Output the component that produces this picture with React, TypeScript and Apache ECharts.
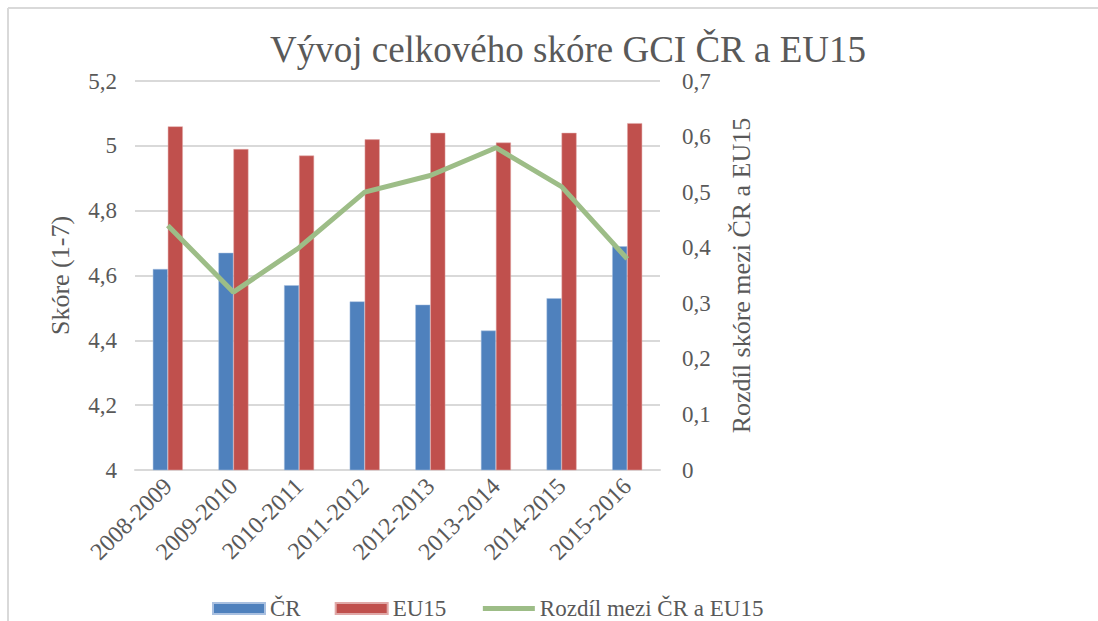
import React, { useEffect, useRef } from "react";
import * as echarts from "echarts";

const categories = ["2008-2009", "2009-2010", "2010-2011", "2011-2012", "2012-2013", "2013-2014", "2014-2015", "2015-2016"];
const crValues = [4.62, 4.67, 4.57, 4.52, 4.51, 4.43, 4.53, 4.69];
const eu15Values = [5.06, 4.99, 4.97, 5.02, 5.04, 5.01, 5.04, 5.07];
const diffValues = [0.44, 0.32, 0.40, 0.50, 0.53, 0.58, 0.51, 0.38];

const FONT = "'Liberation Serif', serif";
const TXT = "#595959";

const fmt = (v: number) => String(+v.toFixed(1)).replace(".", ",");

export default function App() {
  const ref = useRef<HTMLDivElement>(null);
  useEffect(() => {
    if (!ref.current) return;
    const chart = echarts.init(ref.current, null, { renderer: "svg" });
    chart.setOption({
      animation: false,
      backgroundColor: "#ffffff",
      textStyle: { fontFamily: FONT, color: TXT },
      title: {
        text: "Vývoj celkového skóre GCI ČR a EU15",
        left: 563,
        textAlign: "center",
        top: 26,
        textStyle: { fontFamily: FONT, fontSize: 37, fontWeight: "normal", color: TXT },
      },
      graphic: [
        { type: "line", shape: { x1: 8, y1: 8, x2: 1098, y2: 8 }, style: { stroke: "#D9D9D9", lineWidth: 2 } },
        { type: "line", shape: { x1: 8, y1: 8, x2: 8, y2: 621 }, style: { stroke: "#D9D9D9", lineWidth: 2 } },
      ],
      legend: {
        left: 207,
        top: 592,
        itemWidth: 52,
        itemHeight: 11,
        itemGap: 34,
        textStyle: { fontFamily: FONT, fontSize: 23, color: TXT },
        data: [
          { name: "ČR", icon: "rect" },
          { name: "EU15", icon: "rect" },
          { name: "Rozdíl mezi ČR a EU15", itemStyle: { opacity: 0 }, lineStyle: { width: 5, color: "#9DBD87" } },
        ],
      },
      grid: { left: 135, right: 438, top: 81, bottom: 151 },
      xAxis: {
        type: "category",
        data: categories,
        axisLine: { lineStyle: { color: "#D9D9D9", width: 2 } },
        axisTick: { show: false },
        axisLabel: { rotate: 45, fontFamily: FONT, fontSize: 24, color: TXT, margin: 12 },
      },
      yAxis: [
        {
          type: "value",
          min: 4,
          max: 5.2,
          interval: 0.2,
          name: "Skóre (1-7)",
          nameLocation: "middle",
          nameGap: 62,
          nameTextStyle: { fontFamily: FONT, fontSize: 26, color: TXT },
          axisLine: { show: false },
          axisTick: { show: false },
          splitLine: { lineStyle: { color: "#D9D9D9", width: 2 } },
          axisLabel: { formatter: fmt, fontFamily: FONT, fontSize: 23, color: TXT, margin: 18 },
        },
        {
          type: "value",
          min: 0,
          max: 0.7,
          interval: 0.1,
          name: "Rozdíl skóre mezi ČR a EU15",
          nameLocation: "middle",
          nameGap: 68,
          nameRotate: 90,
          nameTextStyle: { fontFamily: FONT, fontSize: 26, color: TXT },
          axisLine: { show: false },
          axisTick: { show: false },
          splitLine: { show: false },
          axisLabel: { formatter: fmt, fontFamily: FONT, fontSize: 23, color: TXT, margin: 22 },
        },
      ],
      series: [
        {
          name: "ČR",
          type: "bar",
          data: crValues,
          barWidth: 15,
          barGap: "0%",
          itemStyle: { color: "#4F81BD", borderColor: "#A9C0E0", borderWidth: 0.5 },
        },
        {
          name: "EU15",
          type: "bar",
          data: eu15Values,
          barWidth: 15,
          barGap: "0%",
          itemStyle: { color: "#C0504D", borderColor: "#E0A9A8", borderWidth: 0.5 },
        },
        {
          name: "Rozdíl mezi ČR a EU15",
          type: "line",
          yAxisIndex: 1,
          data: diffValues,
          symbol: "none",
          lineStyle: { color: "#9DBD87", width: 5 },
          itemStyle: { color: "#9DBD87" },
        },
      ],
    });
    return () => chart.dispose();
  }, []);
  return <div ref={ref} style={{ position: "absolute", left: 0, top: 0, width: 1098, height: 621 }} />;
}
